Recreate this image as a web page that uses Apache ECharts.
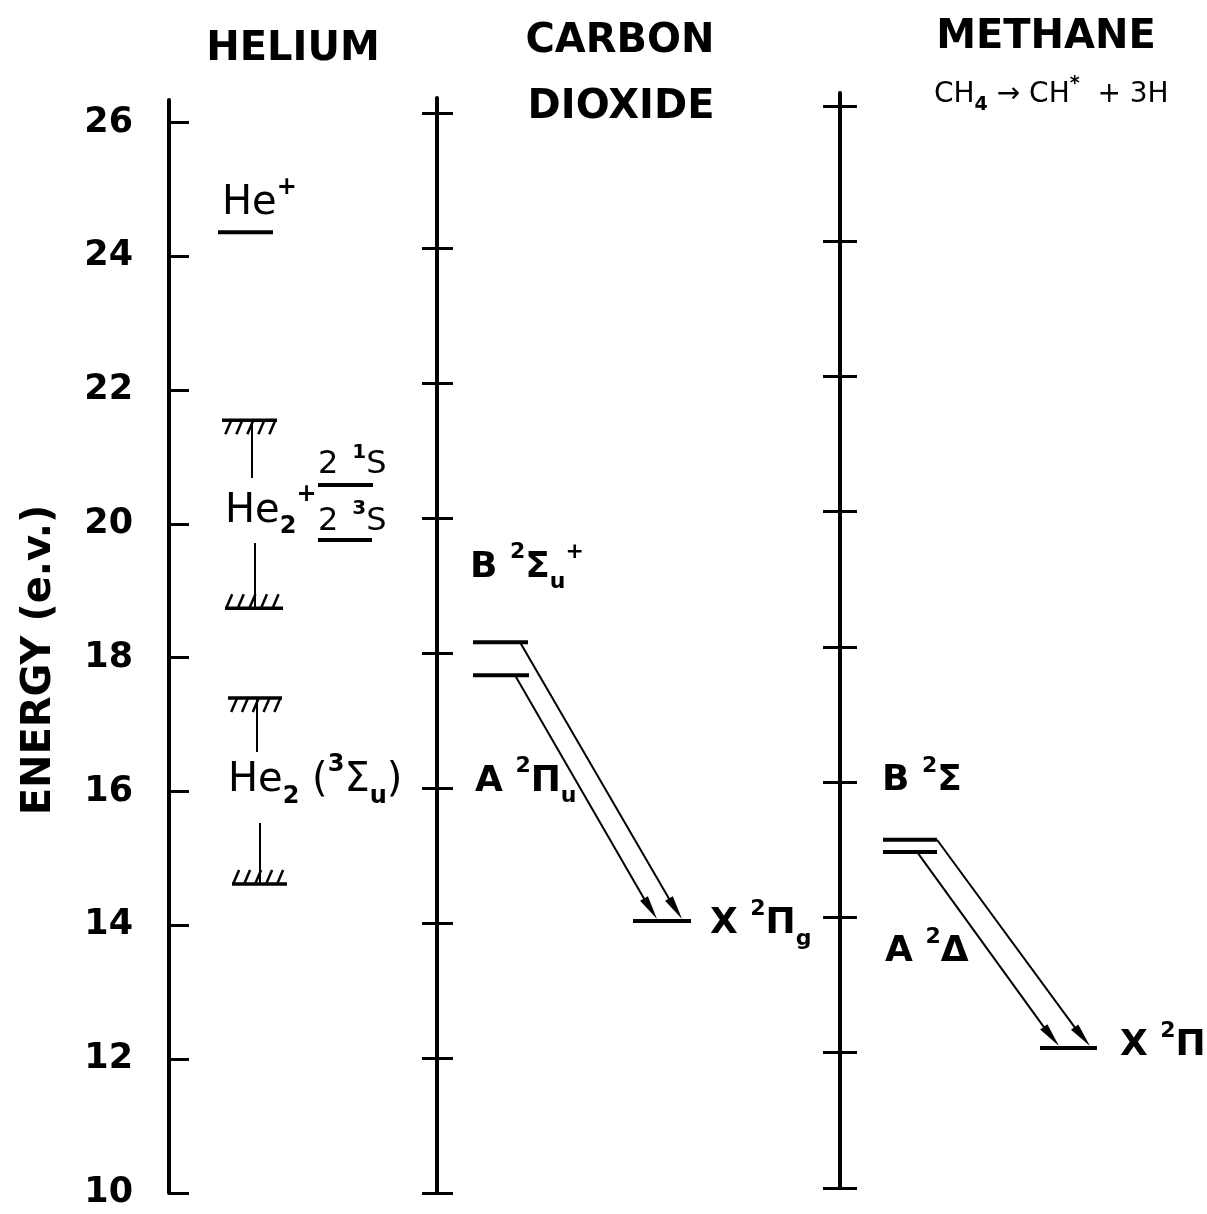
<!DOCTYPE html>
<html><head><meta charset="utf-8">
<script src="https://cdn.jsdelivr.net/npm/echarts@6/dist/echarts.min.js"></script>
<style>html,body{margin:0;padding:0;background:#fff}#c{width:1207px;height:1214px}</style>
</head><body><div id="c"></div>
<script>
// ================= DATA =================
const energyTicks = [10, 12, 14, 16, 18, 20, 22, 24, 26];
const axisTitle = 'ENERGY (e.v.)';
const columnTitles = ['HELIUM', 'CARBON', 'DIOXIDE', 'METHANE'];
const methaneReaction = 'CH4 → CH* + 3H';

// Helium
const heIonNames = ['He+'];
const heIonEnergies = [24.36];
const heAtomNames = ['2¹S', '2³S'];
const heAtomEnergies = [20.58, 19.76];
const heBandNames = ['He2+', 'He2(³Σu)'];
const heBandTop = [21.55, 17.40];
const heBandBottom = [18.74, 14.62];

// Carbon dioxide (CO2+)
const co2States = ['B²Σu+', 'A²Πu', 'X²Πg'];
const co2Energies = [18.16, 17.67, 14.03];
const co2Transitions = [[0, 2], [1, 2]];

// Methane (CH*)
const chStates = ['B²Σ', 'A²Δ', 'X²Π'];
const chEnergies = [15.15, 14.97, 12.07];
const chTransitions = [[0, 2], [1, 2]];

// ================= LAYOUT / STYLE =================
const FONT = '"DejaVu Sans"';
const grids = [
  {left: 169, top: 100, width: 268, height: 1093, yMax: 26.336},
  {left: 437, top: 98, width: 403, height: 1095, yMax: 26.222},
  {left: 840, top: 93, width: 367, height: 1095, yMax: 26.192}
];
// horizontal extents (px) of drawn marks
const heIonX = [[218, 273]];
const heAtomX = [[318, 373], [318, 372]];
const heBandTopX = [[222, 277], [228, 282]];
const heBandBottomX = [[225, 283], [232, 287]];
const heStubX = [[252, 255], [257, 260]];
const heStubEnds = [[20.687, 19.715], [16.591, 15.530]];
const co2LevelX = [[473, 528], [473, 529], [633, 691]];
const co2ArrowX = [[520, 682], [515, 657]];
const chLevelX = [[883, 937], [883, 937], [1040, 1097]];
const chArrowX = [[937, 1090], [917, 1059]];

// label anchors: [x px, energy (axis units)], text left/middle
const heLabelPos = {'He+': [222, 24.78], 'He2+': [225, 20.19], '2¹S': [318, 20.88], '2³S': [318, 20.04], 'He2(³Σu)': [228, 16.16]};
const co2LabelPos = [[470, 19.27], [475, 16.10], [710, 13.985]];
const chLabelPos = [[882, 16.02], [885, 13.49], [1120, 12.10]];

const richLabel = {
  'He+': '{h|He}{hp|+}',
  'He2+': '{h|He}{hb|2}{hp|+}',
  '2¹S': '{a|2}{ap|  1}{a|S}',
  '2³S': '{a|2}{ap|  3}{a|S}',
  'He2(³Σu)': '{h|He}{hb|2}{h| (}{hp|3}{h|Σ}{hb|u}{h|)}',
  'B²Σu+': '{m|B }{p|2}{m|Σ}{b|u}{p|+}',
  'A²Πu': '{m|A }{p|2}{m|Π}{b|u}',
  'X²Πg': '{m|X }{p|2}{m|Π}{b|g}',
  'B²Σ': '{m|B }{p|2}{m|Σ}',
  'A²Δ': '{m|A }{p|2}{m|Δ}',
  'X²Π': '{m|X }{p|2}{m|Π}'
};
const fam = 'DejaVu Sans';
const rich = {
  m: {fontFamily: fam, fontSize: 36, fontWeight: 'bold', lineHeight: 52, verticalAlign: 'middle', color: '#000'},
  p: {fontFamily: fam, fontSize: 22, fontWeight: 'bold', lineHeight: 22, verticalAlign: 'top', color: '#000'},
  b: {fontFamily: fam, fontSize: 22, fontWeight: 'bold', lineHeight: 22, verticalAlign: 'bottom', color: '#000'},
  h: {fontFamily: fam, fontSize: 40, lineHeight: 56, verticalAlign: 'middle', color: '#000'},
  hp: {fontFamily: fam, fontSize: 24, fontWeight: 'bold', lineHeight: 24, verticalAlign: 'top', color: '#000'},
  hb: {fontFamily: fam, fontSize: 24, fontWeight: 'bold', lineHeight: 24, verticalAlign: 'bottom', color: '#000'},
  a: {fontFamily: fam, fontSize: 32, lineHeight: 44, verticalAlign: 'middle', color: '#000'},
  ap: {fontFamily: fam, fontSize: 20, fontWeight: 'bold', lineHeight: 20, verticalAlign: 'top', color: '#000'},
  c: {fontFamily: fam, fontSize: 28, lineHeight: 40, verticalAlign: 'middle', color: '#000'},
  cp: {fontFamily: fam, fontSize: 19, fontWeight: 'bold', lineHeight: 19, verticalAlign: 'top', color: '#000'},
  cb: {fontFamily: fam, fontSize: 19, fontWeight: 'bold', lineHeight: 19, verticalAlign: 'bottom', color: '#000'}
};

// ================= RENDERERS =================
function renderLevel(params, api) {
  const a = api.coord([api.value(0), api.value(2)]);
  const b = api.coord([api.value(1), api.value(2)]);
  return {type: 'line', shape: {x1: a[0], y1: a[1], x2: b[0], y2: b[1]}, style: {stroke: '#000', lineWidth: 4}};
}
function renderHatch(params, api) {
  const a = api.coord([api.value(0), api.value(2)]);
  const b = api.coord([api.value(1), api.value(2)]);
  const dir = api.value(3);
  const ch = [{type: 'line', shape: {x1: a[0], y1: a[1], x2: b[0], y2: b[1]}, style: {stroke: '#000', lineWidth: 3.5}}];
  const n = 5, step = (b[0] - a[0]) / n;
  for (let i = 0; i < n; i++) {
    if (dir > 0) {
      const xt = a[0] + step * (i + 0.85);
      ch.push({type: 'line', shape: {x1: xt, y1: a[1], x2: xt - 6, y2: a[1] + 14}, style: {stroke: '#000', lineWidth: 2.5}});
    } else {
      const xb = a[0] + step * (i + 0.1);
      ch.push({type: 'line', shape: {x1: xb, y1: a[1], x2: xb + 6, y2: a[1] - 14}, style: {stroke: '#000', lineWidth: 2.5}});
    }
  }
  return {type: 'group', children: ch};
}
function renderStub(params, api) {
  const a = api.coord([api.value(0), api.value(1)]);
  const b = api.coord([api.value(0), api.value(2)]);
  return {type: 'line', shape: {x1: a[0], y1: a[1], x2: b[0], y2: b[1]}, style: {stroke: '#000', lineWidth: 2}};
}
function renderArrow(params, api) {
  const a = api.coord([api.value(0), api.value(1)]);
  const b = api.coord([api.value(2), api.value(3)]);
  const dx = b[0] - a[0], dy = b[1] - a[1], len = Math.hypot(dx, dy);
  const ux = dx / len, uy = dy / len, hl = 26, hw = 4.5;
  const bx = b[0] - ux * hl, by = b[1] - uy * hl;
  return {type: 'group', children: [
    {type: 'line', shape: {x1: a[0], y1: a[1], x2: bx + ux * 4, y2: by + uy * 4}, style: {stroke: '#000', lineWidth: 2}},
    {type: 'polygon', shape: {points: [[b[0], b[1] - 2], [bx - uy * hw, by + ux * hw], [bx + uy * hw, by - ux * hw]]}, style: {fill: '#000'}}
  ]};
}
function makeLabelRenderer(texts) {
  return function (params, api) {
    const p = api.coord([api.value(0), api.value(1)]);
    return {type: 'text', x: p[0], y: p[1], style: {text: texts[params.dataIndex], rich: rich, align: 'left', verticalAlign: 'middle', fill: '#000'}};
  };
}

// ================= BUILD SERIES DATA =================
const heLevelData = heIonEnergies.map((e, i) => [heIonX[i][0], heIonX[i][1], e])
  .concat(heAtomEnergies.map((e, i) => [heAtomX[i][0], heAtomX[i][1], e]));
const heHatchData = [];
heBandNames.forEach((n, i) => {
  heHatchData.push([heBandTopX[i][0], heBandTopX[i][1], heBandTop[i], 1]);
  heHatchData.push([heBandBottomX[i][0], heBandBottomX[i][1], heBandBottom[i], -1]);
});
const heStubData = [];
heBandNames.forEach((n, i) => {
  heStubData.push([heStubX[i][0], heBandTop[i], heStubEnds[i][0]]);
  heStubData.push([heStubX[i][1], heStubEnds[i][1], heBandBottom[i]]);
});
const heLabelNames = heIonNames.concat(heAtomNames, heBandNames);
const heLabelData = heLabelNames.map(n => heLabelPos[n]);
const heLabelTexts = heLabelNames.map(n => richLabel[n]);

const co2LevelData = co2Energies.map((e, i) => [co2LevelX[i][0], co2LevelX[i][1], e]);
const co2ArrowData = co2Transitions.map((t, i) => [co2ArrowX[i][0], co2Energies[t[0]], co2ArrowX[i][1], co2Energies[t[1]]]);
const co2LabelTexts = co2States.map(n => richLabel[n]);

const chLevelData = chEnergies.map((e, i) => [chLevelX[i][0], chLevelX[i][1], e]);
const chArrowData = chTransitions.map((t, i) => [chArrowX[i][0], chEnergies[t[0]], chArrowX[i][1], chEnergies[t[1]]]);
const chLabelTexts = chStates.map(n => richLabel[n]);

// ================= AXES =================
function yAx(gi, opts) {
  return Object.assign({
    type: 'value', gridIndex: gi, min: 10, max: grids[gi].yMax, interval: 2, position: 'left',
    axisLine: {show: true, onZero: false, lineStyle: {color: '#000', width: 4}},
    axisTick: {show: true, inside: true, length: 16, customValues: energyTicks, lineStyle: {color: '#000', width: 3}},
    axisLabel: {show: false},
    splitLine: {show: false}
  }, opts);
}
const yAxes = [
  yAx(0, {
    axisTick: {show: true, inside: true, length: 20, customValues: energyTicks, lineStyle: {color: '#000', width: 3}},
    axisLabel: {show: true, customValues: energyTicks, margin: 36, color: '#000', fontSize: 35, fontWeight: 'bold', fontFamily: fam}
  }),
  yAx(1, {}),
  yAx(1, {axisLine: {show: false, onZero: false}, axisTick: {show: true, inside: false, length: 15, customValues: energyTicks, lineStyle: {color: '#000', width: 3}}}),
  yAx(2, {axisTick: {show: true, inside: true, length: 17, customValues: energyTicks, lineStyle: {color: '#000', width: 3}}}),
  yAx(2, {axisLine: {show: false, onZero: false}, axisTick: {show: true, inside: false, length: 17, customValues: energyTicks, lineStyle: {color: '#000', width: 3}}})
];
const xAxes = grids.map((g, i) => ({type: 'value', gridIndex: i, min: g.left, max: g.left + g.width, show: false}));

function cs(xi, yi, data, render, z) {
  return {type: 'custom', xAxisIndex: xi, yAxisIndex: yi, data: data, renderItem: render, silent: true, animation: false, z: z || 2, clip: false};
}

const option = {
  backgroundColor: '#fff',
  animation: false,
  grid: grids.map(g => ({left: g.left, top: g.top, width: g.width, height: g.height, containLabel: false})),
  xAxis: xAxes,
  yAxis: yAxes,
  graphic: [
    {type: 'text', x: 293, y: 50, style: {text: columnTitles[0], font: 'bold 40px ' + FONT, fill: '#000', align: 'center', verticalAlign: 'middle'}},
    {type: 'text', x: 620, y: 42, style: {text: columnTitles[1], font: 'bold 40px ' + FONT, fill: '#000', align: 'center', verticalAlign: 'middle'}},
    {type: 'text', x: 621, y: 108, style: {text: columnTitles[2], font: 'bold 40px ' + FONT, fill: '#000', align: 'center', verticalAlign: 'middle'}},
    {type: 'text', x: 1046, y: 38, style: {text: columnTitles[3], font: 'bold 40px ' + FONT, fill: '#000', align: 'center', verticalAlign: 'middle'}},
    {type: 'text', x: 934, y: 95, style: {text: '{c|CH}{cb|4}{c| → CH}{cp|*}{c|  + 3H}', rich: rich, align: 'left', verticalAlign: 'middle', fill: '#000'}},
    {type: 'text', x: 40, y: 660, rotation: Math.PI / 2, style: {text: axisTitle, font: 'bold 40px ' + FONT, fill: '#000', align: 'center', verticalAlign: 'middle'}}
  ],
  series: [
    cs(0, 0, heLevelData, renderLevel),
    cs(0, 0, heHatchData, renderHatch),
    cs(0, 0, heStubData, renderStub),
    cs(0, 0, heLabelData, makeLabelRenderer(heLabelTexts), 3),
    cs(1, 1, co2LevelData, renderLevel),
    cs(1, 1, co2ArrowData, renderArrow),
    cs(1, 1, co2LabelPos, makeLabelRenderer(co2LabelTexts), 3),
    cs(2, 3, chLevelData, renderLevel),
    cs(2, 3, chArrowData, renderArrow),
    cs(2, 3, chLabelPos, makeLabelRenderer(chLabelTexts), 3)
  ]
};
const chart = echarts.init(document.getElementById('c'), null, {renderer: 'canvas'});
chart.setOption(option);
</script></body></html>
